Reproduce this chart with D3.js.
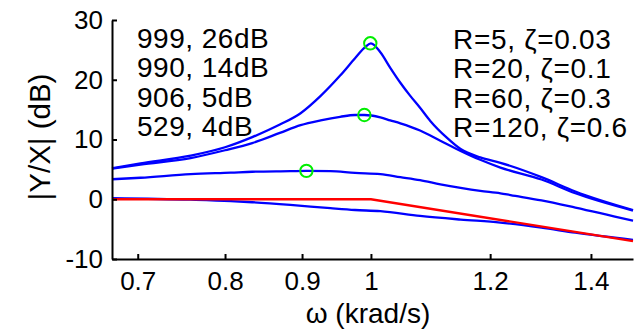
<!DOCTYPE html>
<html><head><meta charset="utf-8">
<script src="https://cdn.jsdelivr.net/npm/d3@7"></script>
<style>
html,body{margin:0;padding:0;background:#fff;}
text{font-family:"Liberation Sans",Arial,sans-serif;fill:#000;}
</style></head>
<body><svg id="c" width="641" height="329"></svg>
<script>
// Data (omega in krad/s, magnitude in dB)
const curveZ003 = [[0.673,5.2],[0.703,6.0],[0.759,7.3],[0.800,8.7],[0.834,10.4],[0.870,12.5],[0.898,14.4],[0.926,17.3],[0.954,20.7],[0.976,23.6],[0.9915,25.5],[1.0,26.1],[1.0145,24.6],[1.030,22.0],[1.046,19.5],[1.062,17.3],[1.078,15.3],[1.095,13.1],[1.123,10.3],[1.147,8.4],[1.182,7.0],[1.219,6.1],[1.298,3.7],[1.367,1.3],[1.493,-1.8]];
const curveZ01 = [[0.673,5.1],[0.703,5.8],[0.759,6.9],[0.800,8.2],[0.834,9.4],[0.870,11.1],[0.898,12.4],[0.926,13.2],[0.954,13.8],[0.976,14.1],[0.990,14.1],[1.0145,13.7],[1.030,13.2],[1.046,12.7],[1.078,11.5],[1.112,9.8],[1.147,8.1],[1.182,6.6],[1.219,5.3],[1.298,3.3],[1.367,1.0],[1.493,-1.9]];
const curveZ03 = [[0.673,3.35],[0.703,3.6],[0.759,4.2],[0.807,4.45],[0.834,4.6],[0.884,4.7],[0.906,4.75],[0.940,4.7],[0.976,4.4],[1.0145,4.2],[1.046,3.7],[1.078,3.2],[1.112,2.5],[1.147,1.9],[1.182,1.4],[1.219,1.0],[1.238,0.7],[1.298,-0.2],[1.367,-1.4],[1.493,-3.6]];
const curveZ06 = [[0.673,0.17],[0.759,-0.07],[0.807,-0.3],[0.834,-0.5],[0.884,-0.95],[0.940,-1.5],[0.976,-1.8],[1.0145,-2.0],[1.078,-2.8],[1.147,-3.4],[1.219,-3.9],[1.298,-4.75],[1.367,-5.6],[1.493,-6.8]];
const asymptote = [[0.673,0],[1.0,0],[1.493,-7.0]];
const peaks = [[0.999,26.1],[0.990,14.1],[0.906,4.75]];
const leftNotes = ["999, 26dB","990, 14dB","906, 5dB","529, 4dB"];
const rightNotes = ["R=5, \u03B6=0.03","R=20, \u03B6=0.1","R=60, \u03B6=0.3","R=120, \u03B6=0.6"];
const xTicks = [0.7,0.8,0.9,1,1.2,1.4];
const yTicks = [-10,0,10,20,30];
const xDomain = [0.673,1.493];
const yDomain = [-10,30];

const svg = d3.select("#c");
const L=112, R=633, T=20, B=259;
const x = d3.scaleLog().domain(xDomain).range([L,R]);
const y = d3.scaleLinear().domain(yDomain).range([B,T]);

const line = d3.line().x(d=>x(d[0])).y(d=>y(d[1])).curve(d3.curveMonotoneX);
const lineStraight = d3.line().x(d=>x(d[0])).y(d=>y(d[1]));
const g = svg.append("g");
[curveZ003,curveZ01,curveZ03,curveZ06].forEach(c=>{
  g.append("path").datum(c).attr("d",line).attr("fill","none")
   .attr("stroke","#0000ff").attr("stroke-width",2.3).attr("stroke-linejoin","round");
});
g.append("path").datum(asymptote).attr("d",lineStraight).attr("fill","none")
 .attr("stroke","#ff0000").attr("stroke-width",2.4);
g.selectAll("circle").data(peaks).enter().append("circle")
 .attr("cx",d=>x(d[0])).attr("cy",d=>y(d[1])).attr("r",6.2)
 .attr("fill","none").attr("stroke","#00ee00").attr("stroke-width",2);

// axes
const ax = svg.append("g").attr("transform",`translate(0,${B})`)
 .call(d3.axisBottom(x).tickValues(xTicks).tickFormat(d=>String(d)).tickSizeInner(-5).tickSizeOuter(0).tickPadding(13));
const ay = svg.append("g").attr("transform",`translate(${L},0)`)
 .call(d3.axisLeft(y).tickValues(yTicks).tickFormat(d=>String(d)).tickSizeInner(-5).tickSizeOuter(0).tickPadding(9));
[ax,ay].forEach(a=>{
  a.select(".domain").attr("stroke","#000").attr("stroke-width",2);
  a.selectAll(".tick line").attr("stroke","#000").attr("stroke-width",2);
  a.selectAll(".tick text").attr("font-size",26).attr("font-family","Liberation Sans, Arial, sans-serif").attr("fill","#000");
});

// labels
svg.append("text").attr("x",368).attr("y",323).attr("text-anchor","middle")
 .attr("font-size",28).text("\u03C9 (krad/s)");
svg.append("text").attr("transform","translate(50,137) rotate(-90)").attr("text-anchor","middle")
 .attr("font-size",29.5).text("|Y/X| (dB)");

const leftY=[47.5,77,106.5,136], rightY=[48.5,78,107.5,137];
svg.selectAll("text.ln").data(leftNotes).enter().append("text").attr("class","ln")
 .attr("x",137).attr("y",(d,i)=>leftY[i]).attr("font-size",28).attr("letter-spacing",0.5).text(d=>d);
svg.selectAll("text.rn").data(rightNotes).enter().append("text").attr("class","rn")
 .attr("x",453).attr("y",(d,i)=>rightY[i]).attr("font-size",28).attr("letter-spacing",0.7).text(d=>d);
</script></body></html>
